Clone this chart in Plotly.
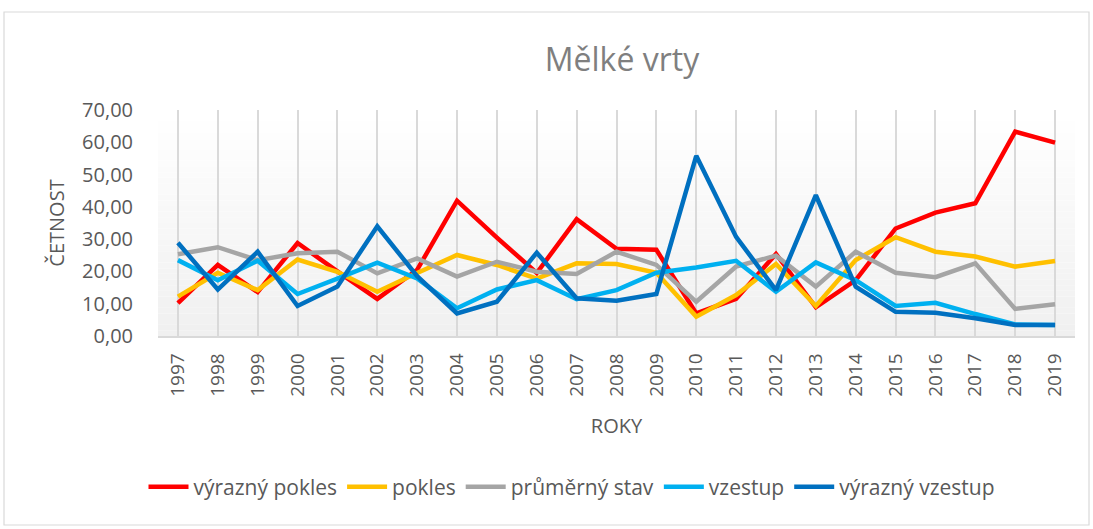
import plotly.graph_objects as go

years = [str(y) for y in range(1997, 2020)]

vyrazny_pokles = [10.2, 22.0, 13.6, 28.8, 20.0, 11.5, 20.5, 41.9, 30.5, 19.5, 36.2, 27.0, 26.7, 7.0,
                  11.5, 25.4, 8.9, 17.3, 33.3, 38.2, 41.1, 63.3, 59.9]
pokles = [12.2, 19.6, 14.2, 23.7, 19.9, 13.7, 19.5, 25.1, 22.0, 17.8, 22.5, 22.3, 19.6, 6.0,
          12.7, 22.3, 9.3, 23.5, 30.6, 26.1, 24.6, 21.5, 23.2]
prumerny_stav = [25.3, 27.5, 23.5, 25.6, 26.1, 19.4, 24.0, 18.4, 23.0, 19.9, 19.2, 26.1, 22.0, 10.6,
                 21.5, 24.9, 15.3, 26.1, 19.6, 18.2, 22.5, 8.4, 9.8]
vzestup = [23.5, 17.3, 23.3, 13.0, 17.8, 22.7, 17.8, 8.6, 14.4, 17.3, 11.4, 14.2, 19.6, 21.2,
           23.3, 13.7, 22.8, 17.3, 9.3, 10.3, 6.8, 3.6, 3.4]
vyrazny_vzestup = [28.9, 14.4, 26.1, 9.3, 15.3, 34.0, 18.5, 7.0, 10.6, 25.8, 11.7, 10.9, 13.0, 55.8,
                   30.7, 14.2, 43.6, 15.3, 7.5, 7.2, 5.5, 3.4, 3.4]

series = [
    ("výrazný pokles", vyrazny_pokles, "#FF0000"),
    ("pokles", pokles, "#FFC000"),
    ("průměrný stav", prumerny_stav, "#A5A5A5"),
    ("vzestup", vzestup, "#00B0F0"),
    ("výrazný vzestup", vyrazny_vzestup, "#0070C0"),
]

FONT = "'Open Sans', Lato, sans-serif"
TXT = "#595959"

fig = go.Figure()
for name, vals, col in series:
    fig.add_trace(go.Scatter(x=years, y=vals, name=name, mode="lines",
                             line=dict(color=col, width=4.5)))

# plot area gradient (white -> light gray)
shapes = []
n = 40
for i in range(n):
    t = i / (n - 1)
    c = int(round(255 - (255 - 240) * (1 - t)))
    shapes.append(dict(type="rect", xref="x domain", yref="y domain",
                       x0=0, x1=1, y0=i / n, y1=(i + 1) / n,
                       fillcolor=f"rgb({c},{c},{c})", line=dict(width=0), layer="below"))
# outer chart border
W, H = 1093, 529
L, R, T, B = 158, 18, 110, 193
pw, ph = W - L - R, H - T - B
def px(x):
    return (x - L) / pw
def py(y):
    return (H - B - y) / ph
shapes.append(dict(type="rect", xref="paper", yref="paper",
                   x0=px(4), x1=px(1089), y0=py(525), y1=py(12),
                   line=dict(color="#d9d9d9", width=1.2), fillcolor="rgba(0,0,0,0)", layer="below"))

fig.update_layout(
    width=W, height=H,
    margin=dict(l=L, r=R, t=T, b=B, autoexpand=False),
    paper_bgcolor="white", plot_bgcolor="rgba(0,0,0,0)",
    separators=", ",
    font=dict(family=FONT, color=TXT),
    title=dict(text="Mělké vrty", x=px(622), xref="paper", xanchor="center",
               y=1 - 60 / H, yanchor="middle",
               font=dict(family=FONT, size=32, color="#7f7f7f")),
    shapes=shapes,
    showlegend=True,
    legend=dict(orientation="h", x=px(572), xanchor="center", y=py(487), yanchor="middle",
                font=dict(family=FONT, size=21, color=TXT), itemwidth=40,
                bgcolor="rgba(0,0,0,0)", traceorder="normal"),
    xaxis=dict(type="category", range=[-0.5, 22.5], showgrid=True, gridcolor="#d9d9d9",
               gridwidth=1.5, showline=True, linecolor="#d9d9d9", linewidth=1.5,
               tickangle=-90, ticks="outside", ticklen=8, tickcolor="rgba(0,0,0,0)",
               tickfont=dict(family=FONT, size=19, color=TXT),
               title=dict(text="ROKY", font=dict(family=FONT, size=20, color=TXT), standoff=23),
               automargin=False, zeroline=False),
    yaxis=dict(range=[0, 70], dtick=10, tickformat=".2f", showgrid=False, zeroline=False,
               showline=False, ticks="outside", ticklen=20, tickcolor="rgba(0,0,0,0)",
               tickfont=dict(family=FONT, size=20, color=TXT),
               title=dict(text="ČETNOST", font=dict(family=FONT, size=20, color=TXT), standoff=12),
               automargin=False),
)

fig.write_html("out.html", config={"displayModeBar": False},
               post_script="document.body.style.margin='0';document.body.style.overflow='hidden';")
